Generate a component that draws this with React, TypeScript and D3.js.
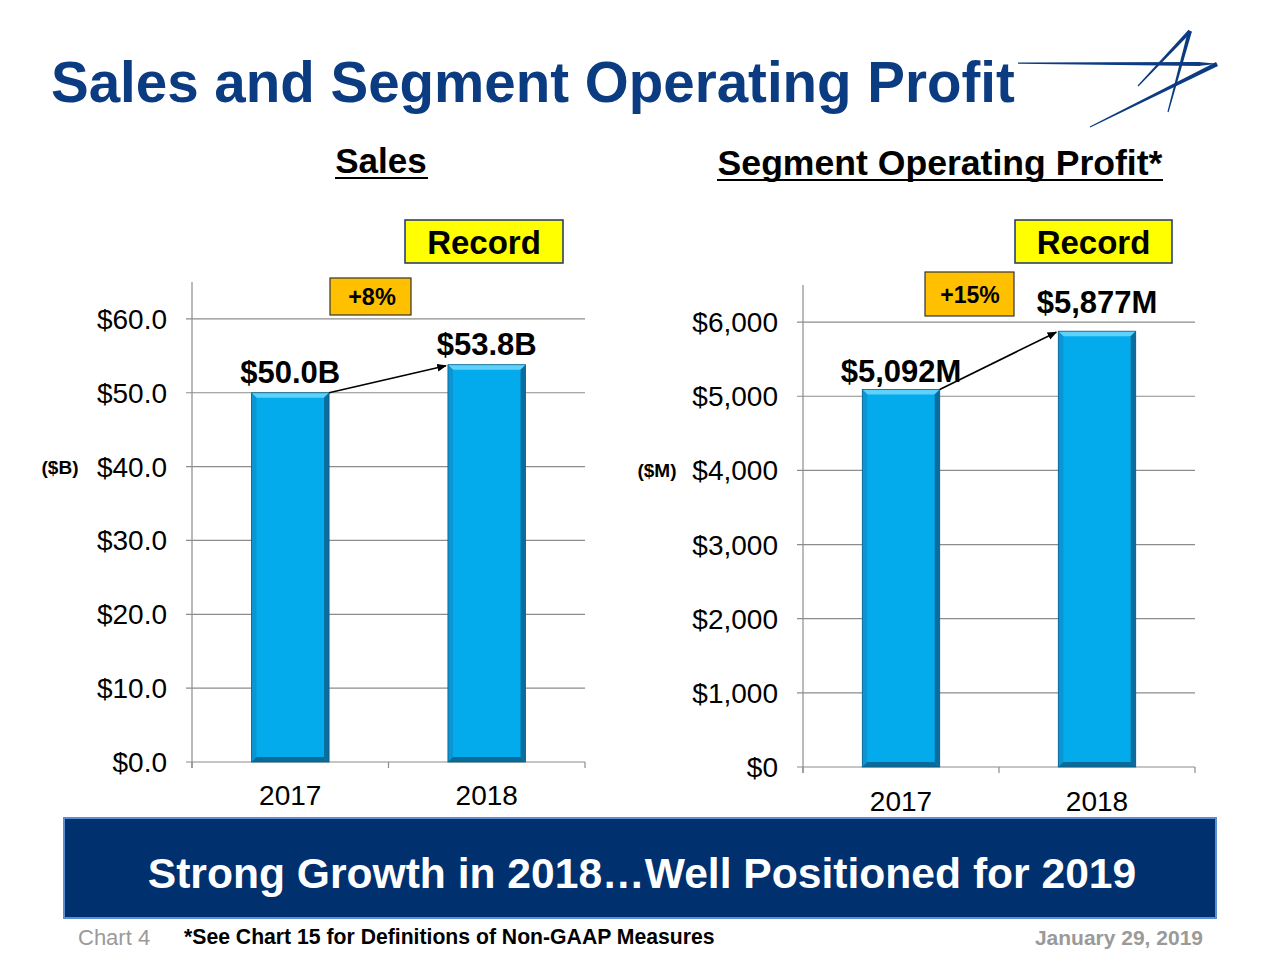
import React from "react";
import * as d3 from "d3";

const categories = ["2017", "2018"];
const salesValues = [50.0, 53.8];
const profitValues = [5092, 5877];
const salesLabels = ["$50.0B", "$53.8B"];
const profitLabels = ["$5,092M", "$5,877M"];
const salesTicks = [0, 10, 20, 30, 40, 50, 60];
const profitTicks = [0, 1000, 2000, 3000, 4000, 5000, 6000];

const FONT = "'Liberation Sans', Arial, Helvetica, sans-serif";
const NAVY = "#0b3b80";

function taper(ax: number, ay: number, bx: number, by: number, wa: number, wb: number) {
  const dx = bx - ax, dy = by - ay;
  const len = Math.hypot(dx, dy);
  const nx = -dy / len, ny = dx / len;
  const p = [
    [ax + nx * wa / 2, ay + ny * wa / 2],
    [bx + nx * wb / 2, by + ny * wb / 2],
    [bx - nx * wb / 2, by - ny * wb / 2],
    [ax - nx * wa / 2, ay - ny * wa / 2],
  ];
  return p.map((q) => q.join(",")).join(" ");
}

function Bar({ x, y, w, h }: { x: number; y: number; w: number; h: number }) {
  const b = 5;
  return (
    <g>
      <rect x={x} y={y} width={w} height={h} fill="#03abec" />
      <polygon points={`${x},${y} ${x + w},${y} ${x + w - b},${y + b} ${x + b},${y + b}`} fill="#5fd2fb" />
      <polygon points={`${x},${y} ${x + b},${y + b} ${x + b},${y + h - b} ${x},${y + h}`} fill="#0b95d2" />
      <polygon points={`${x + w},${y} ${x + w - b},${y + b} ${x + w - b},${y + h - b} ${x + w},${y + h}`} fill="#0a6d9e" />
      <polygon points={`${x},${y + h} ${x + b},${y + h - b} ${x + w - b},${y + h - b} ${x + w},${y + h}`} fill="#0a6a98" />
      <rect x={x} y={y} width={w} height={h} fill="none" stroke="#0b5f8a" strokeWidth={0.8} />
    </g>
  );
}

function Chart({
  x0, x1, y0, yMax, yTop, values, ticks, tickFmt, labels, labelOffsets, unit, unitX, catY,
}: any) {
  const xs = d3.scaleBand<string>().domain(categories).range([x0, x1]).padding(0);
  const ys = d3.scaleLinear().domain([0, yMax]).range([y0, yTop]);
  const bw = xs.bandwidth() * 0.395;
  const bars = values.map((v: number, i: number) => {
    const cx = (xs(categories[i]) as number) + xs.bandwidth() / 2;
    return { cx, x: cx - bw / 2, y: ys(v), h: ys(0) - ys(v) };
  });
  const gridColor = "#8c8c8c";
  return (
    <g>
      {ticks.map((t: number) => (
        <g key={t}>
          <line x1={x0 - 6} x2={x1} y1={ys(t)} y2={ys(t)} stroke={gridColor} strokeWidth={1.2} />
          <text x={x0 - 25} y={ys(t) + 10} textAnchor="end" fontSize={28} fontFamily={FONT} fill="#000">
            {tickFmt(t)}
          </text>
        </g>
      ))}
      <line x1={x0} x2={x0} y1={ys(yMax)} y2={ys(0) + 6} stroke={gridColor} strokeWidth={1.2} />
      {[x0, x0 + xs.step(), x1].map((tx, i) => (
        <line key={i} x1={tx} x2={tx} y1={ys(0)} y2={ys(0) + 6} stroke={gridColor} strokeWidth={1.2} />
      ))}
      {bars.map((b: any, i: number) => (
        <Bar key={i} x={b.x} y={b.y} w={bw} h={b.h} />
      ))}
      {categories.map((c, i) => (
        <text key={c} x={bars[i].cx} y={catY} textAnchor="middle" fontSize={28} fontFamily={FONT} fill="#000">
          {c}
        </text>
      ))}
      {labels.map((l: string, i: number) => (
        <text
          key={l}
          x={bars[i].cx + labelOffsets[i][0]}
          y={bars[i].y + labelOffsets[i][1]}
          textAnchor="middle"
          fontSize={31}
          fontWeight="bold"
          fontFamily={FONT}
          fill="#000"
        >
          {l}
        </text>
      ))}
      <line
        x1={bars[0].x + bw}
        y1={bars[0].y}
        x2={bars[1].x - 2}
        y2={bars[1].y + 1}
        stroke="#000"
        strokeWidth={1.6}
        markerEnd="url(#arrowhead)"
      />
      <text x={unitX} y={ys(ticks[4]) + 7} textAnchor="middle" fontSize={19} fontWeight="bold" fontFamily={FONT} fill="#000">
        {unit}
      </text>
    </g>
  );
}

export default function App() {
  return (
    <div style={{ position: "absolute", left: 0, top: 0 }}>
      <svg width={1280} height={960} viewBox="0 0 1280 960" style={{ display: "block", background: "#fff" }}>
        <defs>
          <marker id="arrowhead" viewBox="0 0 10 10" refX="9" refY="5" markerWidth="6" markerHeight="6" orient="auto" markerUnits="strokeWidth">
            <path d="M0,1 L10,5 L0,9 z" fill="#000" />
          </marker>
        </defs>
        <rect x={0} y={0} width={1280} height={960} fill="#fff" />

        {/* Title */}
        <text x={51} y={102} fontSize={56.5} fontWeight="bold" fontFamily={FONT} fill={NAVY}>
          Sales and Segment Operating Profit
        </text>

        {/* Logo */}
        <g fill={NAVY}>
          <polygon points={taper(1018, 63.2, 1200, 64, 1.2, 4.2)} />
          <polygon points="1198,61.9 1218,63.8 1198,66.1" />
          <polygon points={taper(1217, 64, 1090, 127, 4.5, 1)} />
          <polygon points={taper(1190, 31, 1138, 86, 4, 1.2)} />
          <polygon points={taper(1190, 31, 1168, 112, 4, 1.2)} />
        </g>

        {/* Subtitles */}
        <text x={381} y={173} textAnchor="middle" fontSize={35} fontWeight="bold" fontFamily={FONT} fill="#000">
          Sales
        </text>
        <line x1={335} x2={428} y1={178} y2={178} stroke="#000" strokeWidth={2.2} />
        <text x={940} y={175} textAnchor="middle" fontSize={35.6} fontWeight="bold" fontFamily={FONT} fill="#000">
          Segment Operating Profit*
        </text>
        <line x1={717} x2={1163} y1={180} y2={180} stroke="#000" strokeWidth={2.2} />

        {/* Record boxes */}
        <rect x={405} y={220} width={158} height={43} fill="#ffff00" stroke="#1f3470" strokeWidth={1.5} />
        <text x={484} y={254} textAnchor="middle" fontSize={33} fontWeight="bold" fontFamily={FONT} fill="#000">
          Record
        </text>
        <rect x={1015} y={220} width={157} height={43} fill="#ffff00" stroke="#1f3470" strokeWidth={1.5} />
        <text x={1093.5} y={254} textAnchor="middle" fontSize={33} fontWeight="bold" fontFamily={FONT} fill="#000">
          Record
        </text>

        {/* Growth boxes */}
        <rect x={330} y={278} width={81} height={37} fill="#ffc000" stroke="#333" strokeWidth={1.2} />
        <text x={372} y={305} textAnchor="middle" fontSize={23.5} fontWeight="bold" fontFamily={FONT} fill="#000">
          +8%
        </text>
        <rect x={925} y={272} width={89} height={44} fill="#ffc000" stroke="#333" strokeWidth={1.2} />
        <text x={970} y={303} textAnchor="middle" fontSize={23} fontWeight="bold" fontFamily={FONT} fill="#000">
          +15%
        </text>

        <Chart
          x0={192}
          x1={585}
          y0={762}
          yMax={65}
          yTop={282}
          values={salesValues}
          ticks={salesTicks}
          tickFmt={(t: number) => "$" + d3.format(".1f")(t)}
          labels={salesLabels}
          labelOffsets={[[0, -10], [0, -10]]}
          unit="($B)"
          unitX={60}
          catY={805}
        />
        <Chart
          x0={803}
          x1={1195}
          y0={767}
          yMax={6500}
          yTop={285}
          values={profitValues}
          ticks={profitTicks}
          tickFmt={(t: number) => "$" + d3.format(",")(t)}
          labels={profitLabels}
          labelOffsets={[[0, -7], [0, -18]]}
          unit="($M)"
          unitX={657}
          catY={811}
        />

        {/* Banner */}
        <rect x={64} y={818} width={1152} height={100} fill="#00306e" stroke="#5b8fd3" strokeWidth={2} />
        <text x={642} y={888} textAnchor="middle" fontSize={42.6} fontWeight="bold" fontFamily={FONT} fill="#fff">
          Strong Growth in 2018…Well Positioned for 2019
        </text>

        {/* Footer */}
        <text x={78} y={945} fontSize={22} fontFamily={FONT} fill="#9a9a9a">
          Chart 4
        </text>
        <text x={184} y={944} fontSize={21.2} fontWeight="bold" fontFamily={FONT} fill="#000">
          *See Chart 15 for Definitions of Non-GAAP Measures
        </text>
        <text x={1203} y={945} textAnchor="end" fontSize={21} fontWeight="bold" fontFamily={FONT} fill="#9a9a9a">
          January 29, 2019
        </text>
      </svg>
    </div>
  );
}
